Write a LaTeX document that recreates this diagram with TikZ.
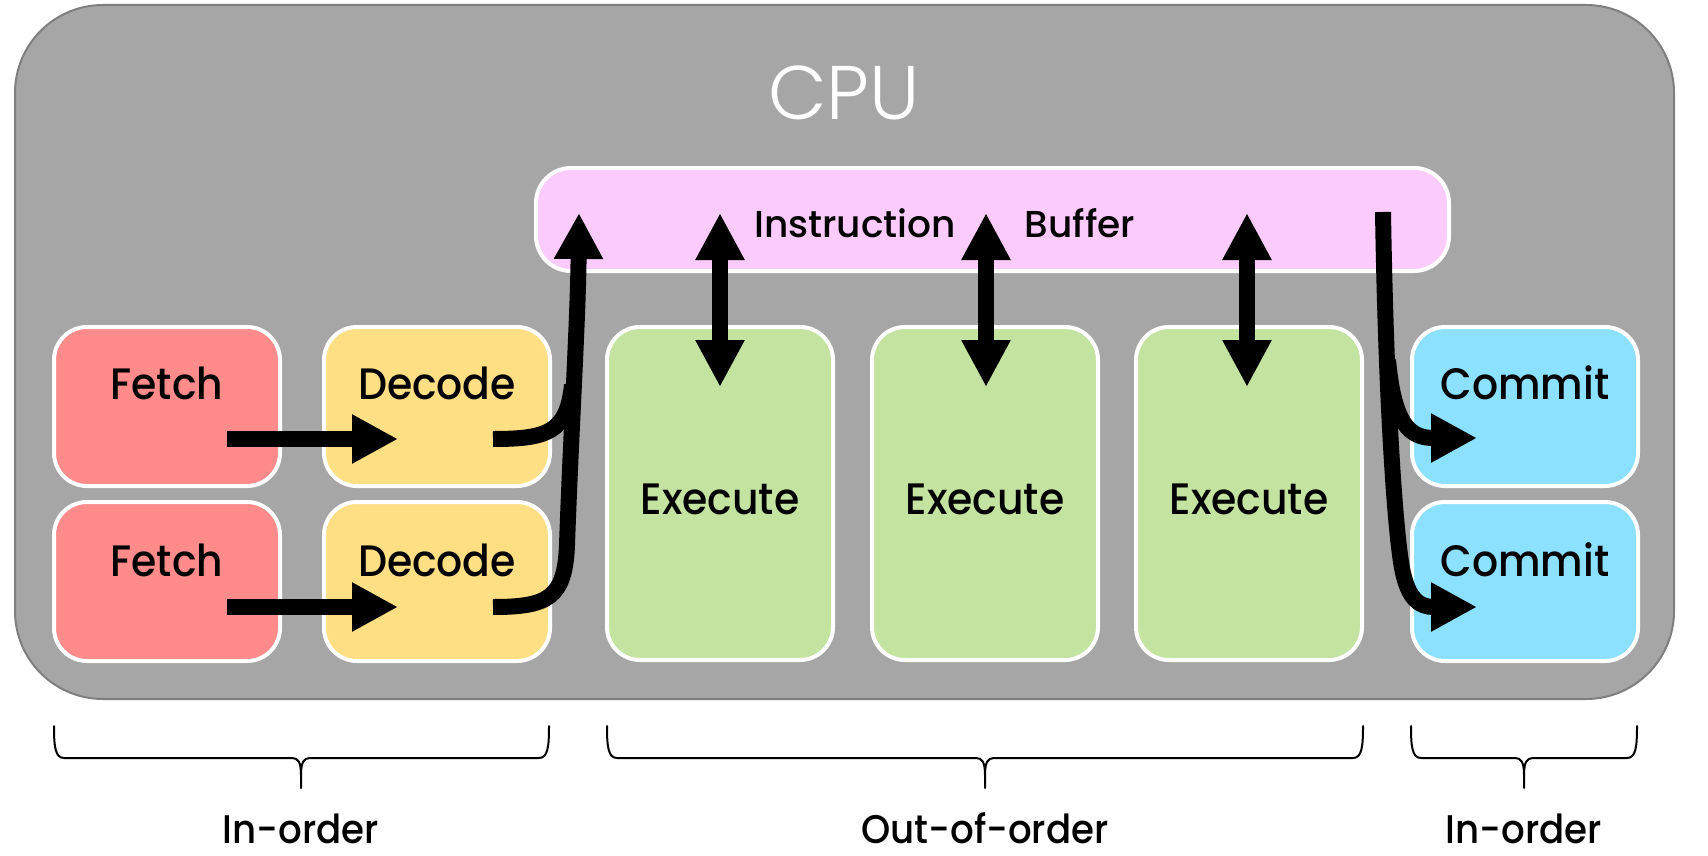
\documentclass[tikz,border=0pt]{standalone}
\usepackage{fontspec}
\newfontfamily\labf{Poppins Medium}[FakeStretch=0.93]
\newfontfamily\buff{Poppins Medium}
\newfontfamily\cpuf{Poppins Light}
\usetikzlibrary{arrows.meta}
\definecolor{cpubg}{HTML}{A6A6A6}
\definecolor{cpuline}{HTML}{7F7F7F}
\definecolor{fetchc}{HTML}{FF8B8B}
\definecolor{decodec}{HTML}{FFDF83}
\definecolor{execc}{HTML}{C4E3A0}
\definecolor{commitc}{HTML}{8BE1FF}
\definecolor{bufc}{HTML}{FBCBFB}
\begin{document}
\begin{tikzpicture}[x=1pt,y=-1pt,
  box/.style={draw=white, line width=4pt, rounded corners=33pt, inner sep=0pt, minimum width=226pt},
  halfbox/.style={box, minimum height=159pt},
  tallbox/.style={box, minimum height=333pt},
  lab/.style={anchor=base, inner sep=0pt, font=\labf\fontsize{44}{50}\selectfont},
  smalllab/.style={anchor=base, inner sep=0pt, font=\buff\fontsize{37.5}{42}\selectfont},
  bottomlab/.style={anchor=base, inner sep=0pt, font=\labf\fontsize{40}{46}\selectfont},
  flow/.style={line width=16pt, -{Triangle[length=46pt,width=46pt]}},
  plainflow/.style={line width=16pt},
  dflow/.style={line width=16pt, {Triangle[length=47pt,width=46pt]}-{Triangle[length=47pt,width=46pt]}},
  bracestyle/.style={line width=2pt, line cap=round, line join=round}]
\useasboundingbox (0,0) rectangle (1708,856);

% CPU frame
\node[draw=cpuline, fill=cpubg, line width=2pt, rounded corners=88pt,
      minimum width=1659pt, minimum height=694pt, inner sep=0pt] (cpu) at (844.5,352) {};
\node[anchor=base, inner sep=0pt, text=white, font=\cpuf\fontsize{76}{80}\selectfont] (cputext) at (844,120) {CPU};

% Instruction buffer
\node[draw=white, fill=bufc, line width=4pt, rounded corners=35pt, inner sep=0pt,
      minimum width=913pt, minimum height=103pt] (buf) at (992.5,219.5) {};
\node[smalllab] (buft1) at (855,237) {Instruction};
\node[smalllab] (buft2) at (1080,237) {Buffer};

% stage boxes
\node[halfbox, fill=fetchc] (f1) at (167,406.5) {};
\node[halfbox, fill=fetchc] (f2) at (167,581.5) {};
\node[halfbox, fill=decodec] (d1) at (437,406.5) {};
\node[halfbox, fill=decodec] (d2) at (437,581.5) {};
\node[tallbox, fill=execc] (e1) at (720,493.5) {};
\node[tallbox, fill=execc] (e2) at (985,493.5) {};
\node[tallbox, fill=execc] (e3) at (1249,493.5) {};
\node[halfbox, fill=commitc] (c1) at (1525,406.5) {};
\node[halfbox, fill=commitc] (c2) at (1525,581.5) {};

\node[lab] (f1t) at (167,399) {Fetch};
\node[lab] (f2t) at (167,576) {Fetch};
\node[lab] (d1t) at (437,399) {Decode};
\node[lab] (d2t) at (437,576) {Decode};
\node[lab] (e1t) at (720,514) {Execute};
\node[lab] (e2t) at (985,514) {Execute};
\node[lab] (e3t) at (1249,514) {Execute};
\node[lab] (c1t) at (1525,399) {Commit};
\node[lab] (c2t) at (1525,576) {Commit};

% connector end points
\coordinate (fa1s) at (227,439);
\coordinate (fa1e) at (398,439);
\coordinate (fa2s) at (227,607);
\coordinate (fa2e) at (398,607);
\coordinate (da1s) at (493,439);
\coordinate (da2s) at (493,607);
\coordinate (dtop) at (579,213);
\coordinate (dmerge) at (572,385);
\coordinate (e1up) at (720,213);
\coordinate (e1dn) at (720,387);
\coordinate (e2up) at (986,213);
\coordinate (e2dn) at (986,387);
\coordinate (e3up) at (1247,213);
\coordinate (e3dn) at (1247,387);
\coordinate (cs) at (1383,212);
\coordinate (cb) at (1388,360);
\coordinate (c1e) at (1477,438);
\coordinate (c2e) at (1477,607);

% fetch -> decode
\draw[flow] (fa1s) -- (fa1e);
\draw[flow] (fa2s) -- (fa2e);

% decode -> buffer
\draw[flow] (da2s) .. controls (548,607) and (565,598) .. (567,545)
            .. controls (571,430) and (578,320) .. (dtop);
\draw[plainflow] (da1s) .. controls (548,439) and (567,432) .. (dmerge);

% buffer <-> execute
\draw[dflow] (e1up) -- (e1dn);
\draw[dflow] (e2up) -- (e2dn);
\draw[dflow] (e3up) -- (e3dn);

% buffer -> commit
\draw[flow] (cs) .. controls (1386,400) and (1395,530) .. (1402,568)
            .. controls (1408,600) and (1420,607) .. (c2e);
\draw[flow] (cb) .. controls (1394,425) and (1410,438) .. (c1e);

% braces
\draw[bracestyle] (54,726) .. controls (54,746) and (55,758) .. (64,758) -- (292,758)
   .. controls (298,758) and (301,762) .. (301,775) -- (301,788);
\draw[bracestyle] (549,726) .. controls (549,746) and (548,758) .. (539,758) -- (310,758)
   .. controls (304,758) and (301,762) .. (301,775);
\draw[bracestyle] (607,726) .. controls (607,746) and (608,758) .. (617,758) -- (976,758)
   .. controls (982,758) and (985,762) .. (985,775) -- (985,788);
\draw[bracestyle] (1363,726) .. controls (1363,746) and (1362,758) .. (1353,758) -- (994,758)
   .. controls (988,758) and (985,762) .. (985,775);
\draw[bracestyle] (1411,726) .. controls (1411,746) and (1412,758) .. (1421,758) -- (1515,758)
   .. controls (1521,758) and (1524,762) .. (1524,775) -- (1524,788);
\draw[bracestyle] (1637,726) .. controls (1637,746) and (1636,758) .. (1627,758) -- (1533,758)
   .. controls (1527,758) and (1524,762) .. (1524,775);

\node[bottomlab] (io1) at (301,843) {In-order};
\node[bottomlab] (ooo) at (985,843) {Out-of-order};
\node[bottomlab] (io2) at (1524,843) {In-order};
\end{tikzpicture}
\end{document}
